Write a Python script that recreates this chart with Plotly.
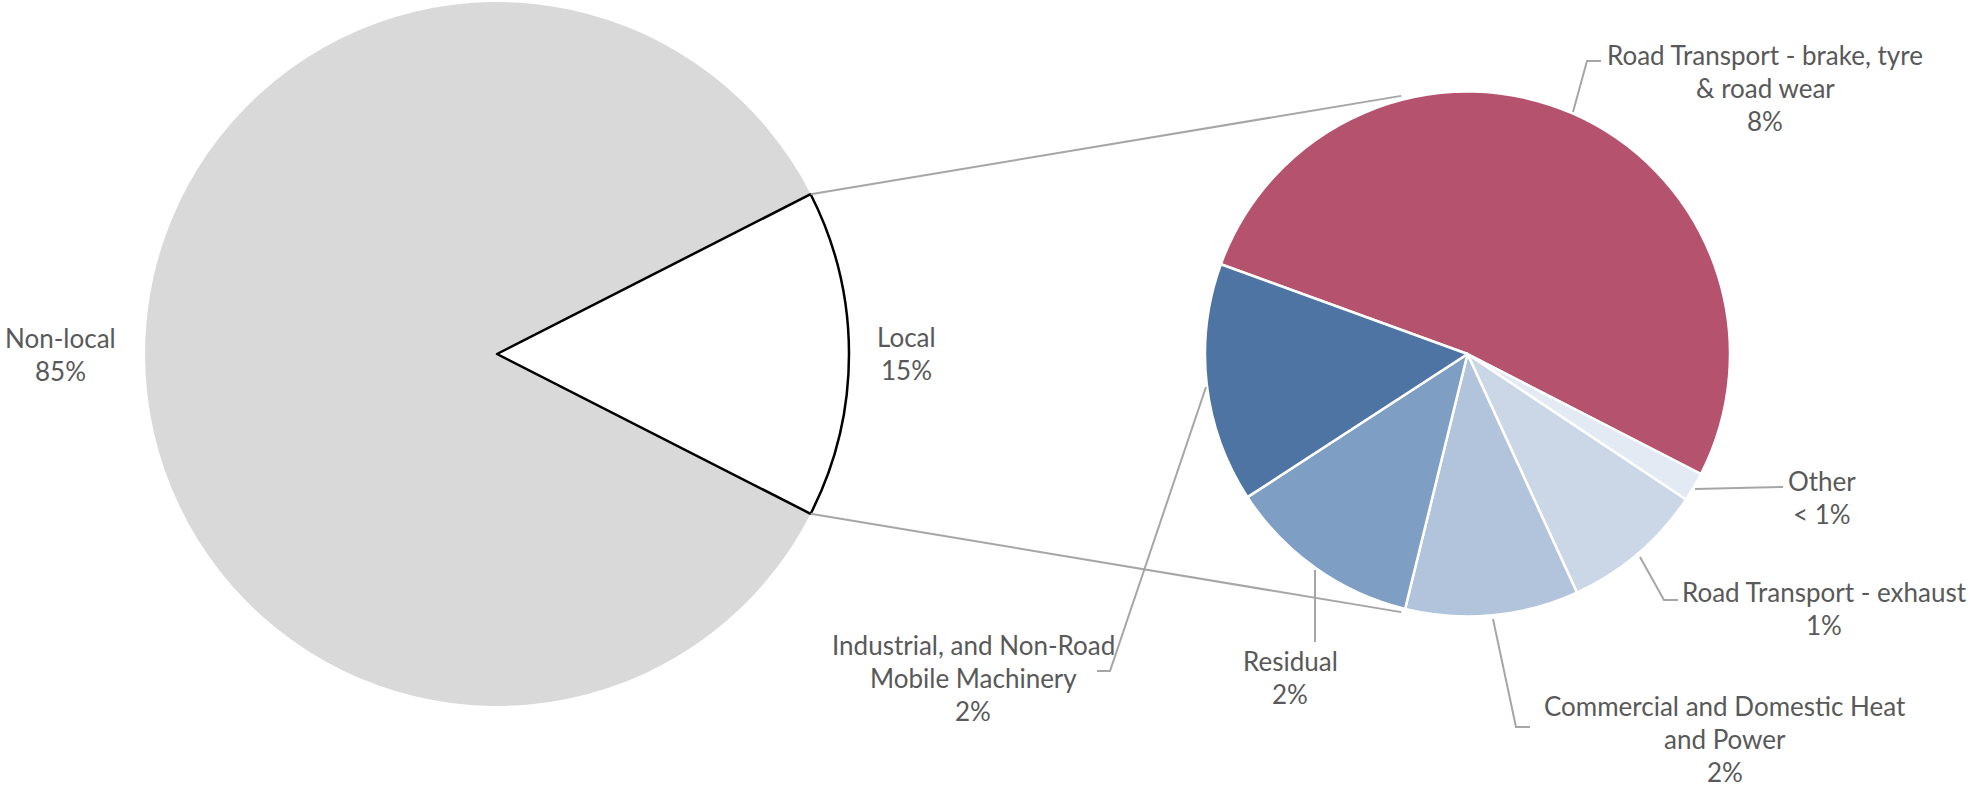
import math
import plotly.graph_objects as go

# ---- data -------------------------------------------------------------
outer_labels = ["Non-local", "Local"]
nonlocal_share = 85.0

local_labels = [
    "Road Transport - brake, tyre<br>& road wear",
    "Other",
    "Road Transport - exhaust",
    "Commercial and Domestic Heat<br>and Power",
    "Residual",
    "Industrial, and Non-Road<br>Mobile Machinery",
]
local_values = [7.8, 0.27, 1.32, 1.6, 1.8, 2.21]
local_colors = ["#B5536F", "#E3EAF3", "#CBD7E7", "#B2C4DC", "#7F9EC3", "#4E74A3"]

local_share = sum(local_values)
outer_values = [nonlocal_share, local_share]

# ---- canvas / geometry (pixels) ----------------------------------------
W, H = 1972, 791
L_CX, L_CY, L_R = 497, 354, 352        # main pie
R_CX, R_CY, R_R = 1467.5, 354, 262.5   # breakdown pie

TEXT = "#595959"
FONT = "Lato"
FSIZE = 26
LINE_H = 33


def px(x):
    return x / W


def py(y):
    return 1 - y / H


def domain(cx, cy, r):
    return dict(x=[px(cx - r), px(cx + r)], y=[py(cy + r), py(cy - r)])


def pct(v):
    return "< 1%" if v < 1 else f"{v:.0f}%"


half = local_share / 100 * 180  # half-angle of the Local wedge, degrees

fig = go.Figure()

fig.add_trace(go.Pie(
    labels=outer_labels,
    values=outer_values,
    sort=False,
    direction="clockwise",
    rotation=90 + half,
    marker=dict(colors=["#D9D9D9", "#FFFFFF"],
                line=dict(color=["#D9D9D9", "#000000"], width=[0, 2.5])),
    textinfo="none",
    domain=domain(L_CX, L_CY, L_R),
    showlegend=False,
))

fig.add_trace(go.Pie(
    labels=[l.replace("<br>", " ") for l in local_labels],
    values=local_values,
    sort=False,
    direction="clockwise",
    rotation=-70,
    marker=dict(colors=local_colors, line=dict(color="#FFFFFF", width=2.5)),
    textinfo="none",
    domain=domain(R_CX, R_CY, R_R),
    showlegend=False,
))

shapes = []

# connector lines between the Local wedge and the breakdown pie
for sgn in (1, -1):
    a0 = math.radians(sgn * half)
    x0 = L_CX + L_R * math.cos(a0)
    y0 = L_CY - L_R * math.sin(a0)
    a1 = math.radians(sgn * 104.4)
    x1 = R_CX + (R_R + 4) * math.cos(a1)
    y1 = R_CY - (R_R + 4) * math.sin(a1)
    shapes.append(dict(type="line", xref="paper", yref="paper",
                       x0=px(x0), y0=py(y0), x1=px(x1), y1=py(y1),
                       line=dict(color="#A6A6A6", width=2)))


def leader(points):
    d = "M " + " L ".join(f"{px(x)},{py(y)}" for x, y in points)
    shapes.append(dict(type="path", xref="paper", yref="paper", path=d,
                       line=dict(color="#A6A6A6", width=2)))


leader([(1573, 112), (1587, 61), (1601, 61)])
leader([(1695, 489), (1783, 487)])
leader([(1640, 557), (1664, 600), (1678, 600)])
leader([(1493, 619), (1516, 727), (1530, 727)])
leader([(1315, 570), (1315, 642)])
leader([(1206, 387), (1110, 671), (1097, 671)])

annotations = []


def add_label(text, cx, y_first):
    for i, line in enumerate(text.split("<br>")):
        annotations.append(dict(
            text=line, x=px(cx), y=py(y_first + i * LINE_H),
            xref="paper", yref="paper", xanchor="center", yanchor="middle",
            showarrow=False, font=dict(family=FONT, size=FSIZE, color=TEXT)))


add_label(f"{outer_labels[0]}<br>{pct(outer_values[0])}", 60, 338)
add_label(f"{outer_labels[1]}<br>{pct(outer_values[1])}", 906, 337)

label_pos = [(1765, 55), (1822, 481), (1824, 592), (1725, 706), (1290, 661), (973, 645)]
for name, v, (cx, cy) in zip(local_labels, local_values, label_pos):
    add_label(f"{name}<br>{pct(v)}", cx, cy)

fig.update_layout(
    width=W, height=H,
    margin=dict(l=0, r=0, t=0, b=0),
    paper_bgcolor="white", plot_bgcolor="white",
    shapes=shapes, annotations=annotations,
)

fig.write_html("out.html")
